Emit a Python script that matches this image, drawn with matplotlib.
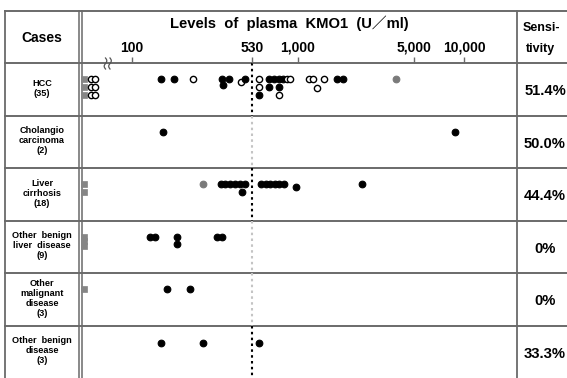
import matplotlib
matplotlib.use("Agg")
import matplotlib.pyplot as plt
import numpy as np

plt.rcParams['font.family'] = ['Liberation Sans', 'Noto Sans CJK JP', 'DejaVu Sans']

# ---------------- data ----------------
categories = ["HCC\n(35)", "Cholangio\ncarcinoma\n(2)", "Liver\ncirrhosis\n(18)",
              "Other  benign\nliver  disease\n(9)", "Other\nmalignant\ndisease\n(3)",
              "Other  benign\ndisease\n(3)"]
sensitivity = ["51.4%", "50.0%", "44.4%", "0%", "0%", "33.3%"]
cutoff = 530
tick_values = [100, 530, 1000, 5000, 10000]
tick_labels = ["100", "530", "1,000", "5,000", "10,000"]

# kinds: f = filled, o = open, g = grey circle, s = grey mark below range
hcc_values = [52, 57, 60, 149, 180, 233, 347, 385, 452, 480, 582, 672, 717, 769, 813, 855, 895,
              1165, 1236, 1439, 1723, 1856, 3865,
              52, 57, 60, 356, 582, 672, 772, 1295,
              52, 57, 60, 582, 772]
hcc_kinds = list("sooffoffofoffffoooooffg" "soofoffo" "soofo")
hcc_lanes = [0, 0, 0, 0, 0, 0, 0, 0, 0.4, 0, 0, 0, 0, 0, 0, 0, 0, 0, 0, 0, 0, 0, 0,
             1, 1, 1, 0.8, 1, 1, 1, 1.1,
             2, 2, 2, 2, 2]

chol_values = [154, 8790]
chol_kinds = list("ff")
chol_lanes = [0, 0]

lc_values = [52, 52, 270, 342, 366, 391, 418, 446, 477, 462, 599, 639, 681, 725, 773, 824, 968, 2415]
lc_kinds = list("ssgfffffffffffffff")
lc_lanes = [0, 1, 0, 0, 0, 0, 0, 0, 0, 1, 0, 0, 0, 0, 0, 0, 0.3, 0]

obl_values = [52, 52, 52, 129, 138, 186, 186, 324, 348]
obl_kinds = list("sssffffff")
obl_lanes = [0, 0.6, 1.2, 0, 0, 0, 1, 0, 0]

om_values = [52, 162, 224]
om_kinds = list("sff")
om_lanes = [0, 0, 0]

ob_values = [151, 270, 585]
ob_kinds = list("fff")
ob_lanes = [0.2, 0.2, 0.2]

groups = [(hcc_values, hcc_kinds, hcc_lanes), (chol_values, chol_kinds, chol_lanes),
          (lc_values, lc_kinds, lc_lanes), (obl_values, obl_kinds, obl_lanes),
          (om_values, om_kinds, om_lanes), (ob_values, ob_kinds, ob_lanes)]
cutoff_dark = [True, False, True, False, False, True]

# ---------------- layout ----------------
W, H = 567, 378
fig = plt.figure(figsize=(W / 100, H / 100), dpi=100)
tab = fig.add_axes([0, 0, 1, 1])
tab.set_xlim(0, W)
tab.set_ylim(H, 0)
tab.axis('off')

TOP, AX_Y, LEFT, CASE_R, SENS_L = 11, 63, 5, 80, 517
n = len(categories)
row_h = (H - AX_Y) / n
line_c = '#6a6a6a'

tab.plot([LEFT, W], [TOP, TOP], color=line_c, lw=1.4)
for i in range(n):
    y = AX_Y + i * row_h
    tab.plot([LEFT, W], [y, y], color=line_c, lw=1.4)
for x, lw in [(LEFT, 1.3), (CASE_R - 1.5, 1.1), (CASE_R + 1.5, 1.1), (SENS_L, 1.3)]:
    tab.plot([x, x], [TOP, H], color=line_c, lw=lw)

# break mark
t = np.linspace(0, 1, 30)
for x0 in (105.5, 110):
    tab.plot(x0 + 1.3 * np.sin(t * 2 * np.pi), 58 + 11 * t, color='#555555', lw=0.9)

tab.text(42, 38, "Cases", ha='center', va='center', fontsize=10, fontweight='bold')
tab.text(289, 23, "Levels  of  plasma  KMO1  (U\uff0fml)", ha='center', va='center',
         fontsize=10.6, fontweight='bold')
tab.text(523, 28, "Sensi-", ha='left', va='center', fontsize=9, fontweight='bold')
tab.text(541, 49, "tivity", ha='center', va='center', fontsize=9, fontweight='bold')

for i, (lab, sens) in enumerate(zip(categories, sensitivity)):
    yc = AX_Y + (i + 0.5) * row_h
    tab.text(42, yc - 1, lab, ha='center', va='center', fontsize=6.6, fontweight='bold',
             linespacing=1.15)
    tab.text(545, yc + 2, sens, ha='center', va='center', fontsize=10.6, fontweight='bold')

# data axes (log scale)
PX100, PXDEC = 131.7, 166.3
ax = fig.add_axes([(CASE_R + 3) / W, 0, (SENS_L - CASE_R - 3) / W, (H - AX_Y) / H])
ax.patch.set_alpha(0)
ax.set_xscale('log')
ax.set_xlim(10 ** (2 + (CASE_R + 3 - PX100) / PXDEC), 10 ** (2 + (SENS_L - PX100) / PXDEC))
ax.set_ylim(n, 0)
for s in ax.spines.values():
    s.set_visible(False)
ax.xaxis.tick_top()
ax.set_xticks(tick_values)
ax.set_xticklabels(tick_labels)
ax.xaxis.set_minor_locator(matplotlib.ticker.NullLocator())
ax.tick_params(axis='x', which='major', direction='out', length=4.5, width=1.0,
               color=line_c, pad=1.5, labelsize=10)
for lbl in ax.get_xticklabels():
    lbl.set_fontweight('bold')
ax.set_yticks([])

for i, dark in enumerate(cutoff_dark):
    ax.plot([cutoff, cutoff], [i, i + 1], ls=(0, (1.2, 1.6)), lw=1.5,
            color='black' if dark else '#c4c4c4', zorder=1)

LANE0, STEP = 0.31, 0.147
style = {
    'f': dict(marker='o', mfc='black', mec='black', ms=4.8, mew=0.8),
    'o': dict(marker='o', mfc='white', mec='black', ms=4.5, mew=1.0),
    'g': dict(marker='o', mfc='#7a7a7a', mec='#7a7a7a', ms=4.8, mew=0.8),
    's': dict(marker='s', mfc='#858585', mec='#858585', ms=4.2, mew=0.5),
}
for i, (vals, kinds, lanes) in enumerate(groups):
    for v, k, l in zip(vals, kinds, lanes):
        ax.plot([v], [i + LANE0 + STEP * l], ls='none', clip_on=False, zorder=3, **style[k])

fig.savefig("out.png", dpi=100)
